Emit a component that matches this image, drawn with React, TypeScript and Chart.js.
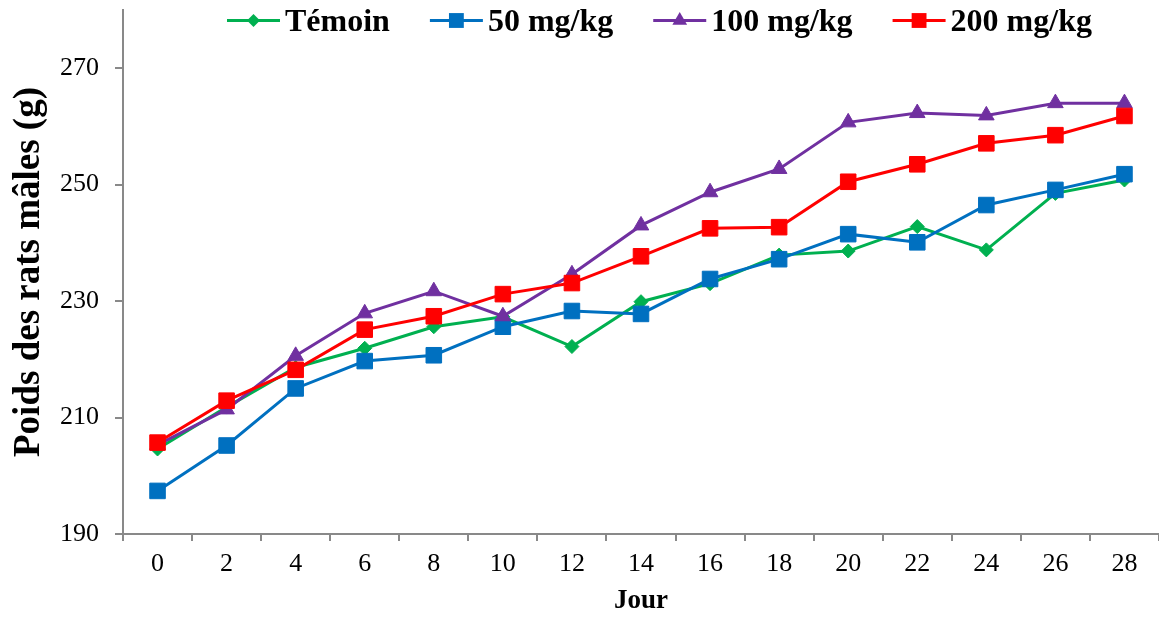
import React, { useEffect, useRef } from 'react';
import { Chart, registerables } from 'chart.js';

Chart.register(...registerables);

// ---- data ----
const DAYS = ['0', '2', '4', '6', '8', '10', '12', '14', '16', '18', '20', '22', '24', '26', '28'];
const Y_TICKS = [190, 210, 230, 250, 270];
const SERIES_LABELS = ['Témoin', '50 mg/kg', '100 mg/kg', '200 mg/kg'];
const TEMOIN = [204.6, 211.8, 218.6, 221.9, 225.6, 227.3, 222.2, 229.9, 233.0, 237.9, 238.6, 242.8, 238.8, 248.5, 250.8];
const D50 = [197.4, 205.2, 215.0, 219.7, 220.7, 225.6, 228.3, 227.8, 233.8, 237.2, 241.5, 240.1, 246.5, 249.1, 251.8];
const D100 = [205.3, 211.4, 220.6, 227.9, 231.7, 227.4, 234.6, 243.0, 248.7, 252.7, 260.7, 262.3, 261.9, 264.0, 264.0];
const D200 = [205.7, 212.9, 218.2, 225.1, 227.4, 231.2, 233.1, 237.7, 242.5, 242.7, 250.5, 253.5, 257.1, 258.5, 261.8];

const SERIES = [TEMOIN, D50, D100, D200];
const COLORS = ['#00B050', '#0070C0', '#7030A0', '#FF0000'];
const POINT_STYLES = ['rectRot', 'rect', 'triangle', 'rect'];
const POINT_RADII = [7, 11, 9, 11];
const LEGEND_RADII = [6.5, 10.5, 8.5, 10.5];

const FONT = '"Liberation Serif", "Times New Roman", serif';
const AXIS_COLOR = '#898989';

function drawMarker(ctx: CanvasRenderingContext2D, style: string, x: number, y: number, r: number, color: string) {
  ctx.save();
  ctx.fillStyle = color;
  ctx.beginPath();
  if (style === 'rectRot') {
    ctx.moveTo(x - r, y);
    ctx.lineTo(x, y - r);
    ctx.lineTo(x + r, y);
    ctx.lineTo(x, y + r);
    ctx.closePath();
  } else if (style === 'rect') {
    const s = Math.SQRT1_2 * r;
    ctx.rect(x - s, y - s, 2 * s, 2 * s);
  } else if (style === 'triangle') {
    ctx.moveTo(x, y - r);
    ctx.lineTo(x + r * Math.cos(Math.PI / 6), y + r / 2);
    ctx.lineTo(x - r * Math.cos(Math.PI / 6), y + r / 2);
    ctx.closePath();
  }
  ctx.fill();
  ctx.restore();
}

const legendPlugin = {
  id: 'excelLegend',
  afterDraw(chart: any) {
    const ctx: CanvasRenderingContext2D = chart.ctx;
    ctx.save();
    ctx.font = `bold 32px ${FONT}`;
    ctx.textAlign = 'left';
    ctx.textBaseline = 'alphabetic';
    let x = 227;
    const y = 20.5;
    chart.data.datasets.forEach((ds: any, i: number) => {
      ctx.strokeStyle = ds.borderColor;
      ctx.lineWidth = 3;
      ctx.beginPath();
      ctx.moveTo(x, y);
      ctx.lineTo(x + 53, y);
      ctx.stroke();
      drawMarker(ctx, ds.pointStyle, x + 26.5, y, LEGEND_RADII[i], ds.borderColor);
      ctx.fillStyle = '#000';
      ctx.fillText(ds.label, x + 58, 31);
      x += 58 + ctx.measureText(ds.label).width + 40;
    });
    ctx.restore();
  },
};

function zeroPadding(scale: any) {
  scale.paddingTop = 0;
  scale.paddingBottom = 0;
  scale.paddingLeft = 0;
  scale.paddingRight = 0;
}

export default function App() {
  const ref = useRef<HTMLCanvasElement | null>(null);

  useEffect(() => {
    if (!ref.current) return;
    const datasets = SERIES.map((data, i) => ({
      label: SERIES_LABELS[i],
      data,
      borderColor: COLORS[i],
      backgroundColor: COLORS[i],
      borderWidth: 3,
      pointStyle: POINT_STYLES[i],
      pointRadius: POINT_RADII[i],
      pointHoverRadius: POINT_RADII[i],
      pointBackgroundColor: COLORS[i],
      pointBorderColor: COLORS[i],
      pointBorderWidth: 1,
      tension: 0,
      clip: false,
      order: 4 - i,
    }));

    const chart = new Chart(ref.current, {
      type: 'line',
      data: { labels: DAYS, datasets },
      plugins: [legendPlugin],
      options: {
        responsive: false,
        animation: false,
        devicePixelRatio: 1,
        layout: { autoPadding: false, padding: { top: 10, left: 0, right: 0, bottom: 0 } },
        plugins: {
          legend: { display: false },
          tooltip: { enabled: false },
        },
        scales: {
          x: {
            type: 'category',
            offset: true,
            grid: {
              display: true,
              drawOnChartArea: false,
              offset: true,
              tickLength: 7,
              color: AXIS_COLOR,
              lineWidth: 2,
            },
            border: { display: true, color: AXIS_COLOR, width: 2 },
            ticks: {
              color: '#000',
              font: { family: FONT, size: 26 },
              padding: 8,
              maxRotation: 0,
              autoSkip: false,
            },
            title: {
              display: true,
              text: 'Jour',
              color: '#000',
              font: { family: FONT, size: 27, weight: 'bold' },
              padding: { top: 0, bottom: 0 },
            },
            afterFit: (scale: any) => {
              scale.height = 83;
              zeroPadding(scale);
            },
          },
          y: {
            type: 'linear',
            min: 190,
            max: 280,
            grid: {
              display: true,
              drawOnChartArea: false,
              tickLength: 8,
              color: AXIS_COLOR,
              lineWidth: 2,
            },
            border: { display: true, color: AXIS_COLOR, width: 2 },
            ticks: {
              color: '#000',
              font: { family: FONT, size: 26 },
              padding: 16,
            },
            afterBuildTicks: (scale: any) => {
              scale.ticks = Y_TICKS.map((v) => ({ value: v }));
            },
            title: {
              display: true,
              text: 'Poids des rats mâles (g)',
              color: '#000',
              font: { family: FONT, size: 37, weight: 'bold' },
              padding: { top: 7, bottom: 0 },
            },
            afterFit: (scale: any) => {
              scale.width = 123;
              zeroPadding(scale);
            },
          },
        },
      },
    } as any);

    return () => chart.destroy();
  }, []);

  return (
    <div style={{ position: 'absolute', left: 0, top: 0, width: 1159, height: 617, background: '#fff' }}>
      <canvas ref={ref} width={1159} height={617} style={{ display: 'block' }} />
    </div>
  );
}
